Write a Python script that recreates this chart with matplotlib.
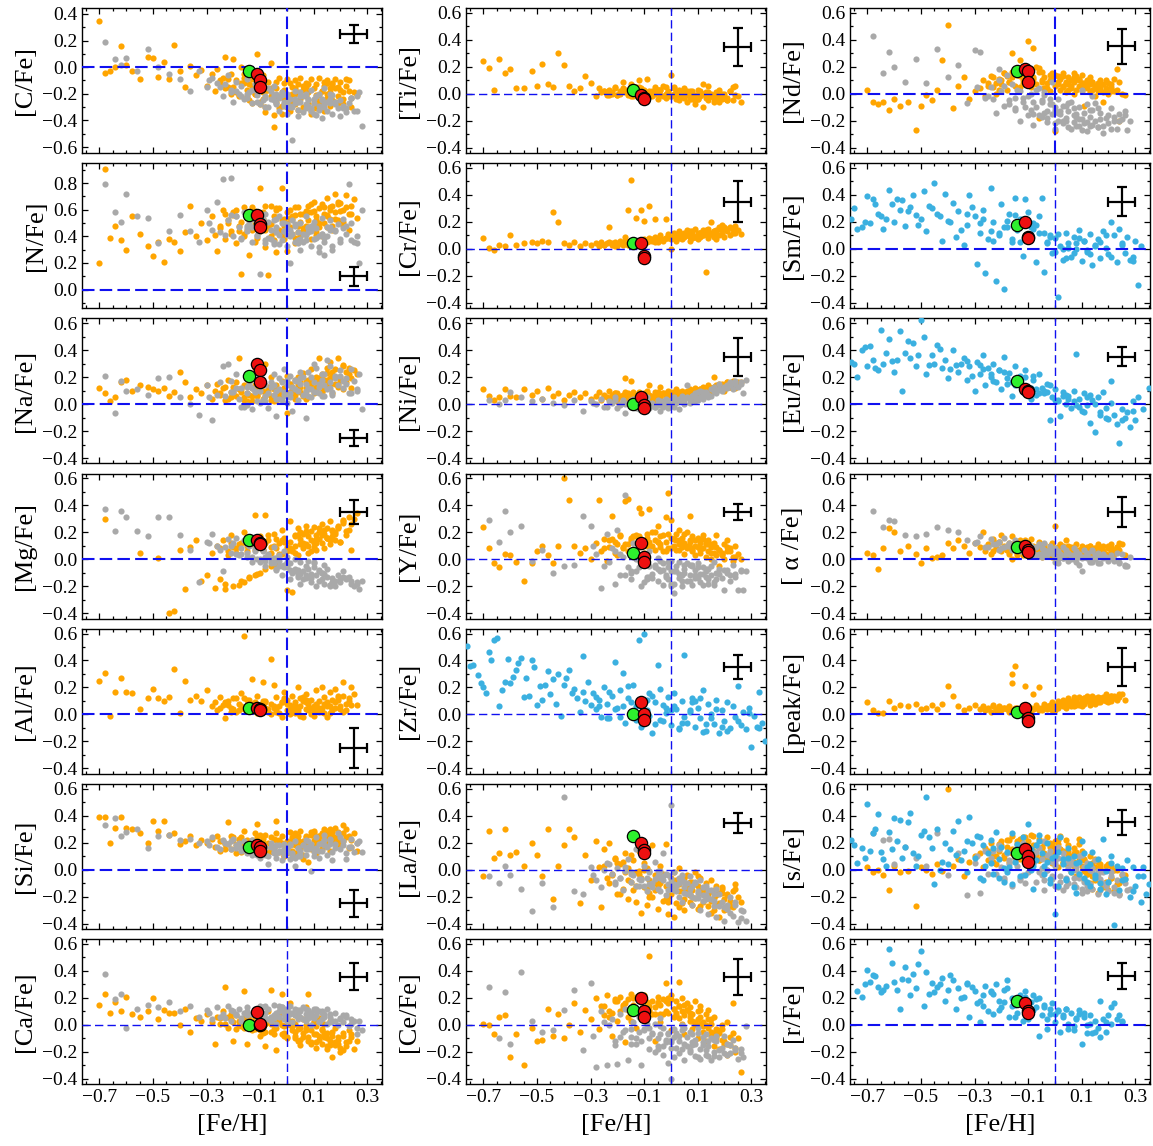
import matplotlib
matplotlib.use("Agg")
import matplotlib.pyplot as plt
from matplotlib.ticker import MultipleLocator
import numpy as np

plt.rcParams['font.family'] = ['Liberation Serif', 'DejaVu Serif']

# [Fe/H] of the comparison samples (units of 0.01 dex)
orange_feh = [-70, -68, -66, -64, -62, -60, -58, -55, -52, -50,
              -48, -46, -44, -42, -40, -38, -36, -34, -32, -30,
              -28, -27, -26, -25, -24, -23, -22, -21, -20, -19,
              -18, -17, -16, -16, -15, -14, -13, -12, -12, -11,
              -10, -10, -9, -8, -8, -7, -6, -6, -5, -4,
              -4, -3, -2, -2, -1, 0, 0, 1, 1, 2,
              2, 3, 3, 4, 4, 5, 5, 6, 6, 7,
              7, 8, 8, 9, 9, 10, 10, 11, 11, 12,
              12, 13, 13, 14, 14, 15, 15, 16, 16, 17,
              17, 18, 18, 19, 20, 21, 22, 23, 24, 26,
              -25, -23, -21, -19, -17, -15, -13, -11, -9, -7,
              -22, -18, -14, -10, -6, -2, 2, 6, 10, 14,
              -5, -3, -1, 1, 3, 5, 7, 9, 11, 13,
              -20, -16, -12, -8, -4, 0, 4, 8, 12, 16,
              15, 17, 19, 20, 21, 22, 23, 24, 25, 18,
              -13, -9, -5, -1, 3, 7, 11, 15, 19, 21]
gray_feh = [-68, -64, -62, -60, -56, -52, -48, -44, -40, -36,
            -33, -30, -28, -26, -24, -22, -21, -20, -19, -18,
            -17, -16, -15, -14, -13, -12, -11, -10, -9, -8,
            -7, -6, -5, -5, -4, -3, -3, -2, -1, -1,
            0, 0, 1, 1, 2, 3, 3, 4, 5, 5,
            6, 7, 7, 8, 9, 9, 10, 11, 11, 12,
            13, 13, 14, 15, 15, 16, 17, 18, 19, 20,
            21, 22, 23, 24, 25, 26, 27, 28, 14, 10,
            -29, -25, -21, -17, -13, -9, -5, -1, 3, 7,
            -15, -11, -7, -3, 1, 5, 9, 13, 17, 21,
            -12, -8, -4, 0, 4, 8, 12, 16, 20, 24,
            -23, -19, -15, -10, -6, -2, 2, 6, 10, 14,
            18, 22, 26, 12, 8, 4, 0, -4, -8, 16]
blue_feh = [-78, -76, -74, -72, -70, -69, -68, -66, -65, -64,
            -62, -61, -60, -58, -57, -56, -54, -53, -52, -50,
            -49, -48, -46, -45, -44, -42, -41, -40, -38, -37,
            -36, -34, -33, -32, -30, -29, -28, -27, -26, -25,
            -24, -23, -22, -21, -20, -19, -18, -17, -16, -15,
            -14, -13, -12, -11, -10, -9, -8, -7, -6, -5,
            -4, -3, -2, -1, 0, 1, 2, 3, 4, 5,
            6, 7, 8, 9, 10, 11, 12, 13, 14, 15,
            16, 17, 18, 19, 20, 21, 22, 23, 24, 25,
            26, 27, 28, 29, 30, 31, 32, 33, 34, 35,
            -75, -71, -67, -63, -59, -55, -51, -47, -43, -39,
            -35, -31, -27, -23, -19, -15, -11, -7, -3, 1,
            5, 9, 13, 17, 21, 25, 29, 33, -33, -21,
            -18, -13, -9, -6, -2, 3, 7, 11, 15, 19,
            -28, -24, -16, -12, -8, -4, 0, 4, 8, 12]

# [X/Fe] of the comparison samples (units of 0.01 dex)
c_orange = [35, -4, -3, 0, 16, 2, -3, -9, 8, 7,
            -7, 4, -9, 17, -3, -15, 1, -6, -2, -14,
            -5, -18, -1, -12, -8, 8, -15, -20, 6, -10,
            -22, 0, -12, -5, -17, -25, -9, -3, -20, 10,
            -14, -28, -6, -18, -34, -11, 3, -22, -45, -16,
            -26, -8, -19, -35, -12, -30, -9, -22, -33, -15,
            -27, -10, -20, -32, -13, -24, -8, -30, -17, -22,
            -12, -28, -19, -35, -9, -25, -16, -31, -13, -21,
            -8, -27, -18, -14, -33, -23, -10, -29, -19, -12,
            -25, -9, -16, -22, -11, -28, -9, -18, -23, -21,
            -10, -16, -5, -19, -12, -22, -14, -7, -24, -17,
            -9, -21, -13, -26, -16, -29, -20, -14, -27, -11,
            -23, -31, -17, -12, -28, -21, -15, -33, -24, -18,
            -15, -8, -20, -30, -11, -25, -19, -13, -26, -16,
            -20, -13, -27, -17, -24, -14, -10, -30, -19, -26,
            -27, -19, -36, -24, -16, -29, -21, -12, -15, -19]
c_gray = [19, 6, 2, 7, -3, 14, 0, -5, -9, -18,
          -3, -15, -8, -12, -22, -6, -17, -26, -11, -20,
          -14, -24, -9, -19, -27, -13, -21, -28, -16, -23,
          -30, -18, -25, -14, -27, -22, -33, -19, -26, -29,
          -21, -35, -24, -30, -55, -18, -27, -32, -22, -26,
          -34, -20, -28, -25, -31, -17, -27, -36, -22, -29,
          -38, -24, -30, -26, -33, -20, -35, -28, -31, -37,
          -29, -34, -27, -23, -33, -22, -19, -44, -16, -24,
          -10, -15, -19, -22, -17, -25, -21, -28, -24, -31,
          -20, -26, -16, -23, -29, -19, -33, -25, -21, -31,
          -17, -22, -28, -20, -26, -24, -32, -27, -25, -23,
          -13, -18, -23, -15, -24, -21, -30, -22, -35, -28,
          -26, -31, -33, -20, -29, -37, -26, -20, -30, -24]
ti_orange = [24, 19, 3, 26, 15, 18, 4, 4, 17, 6,
             22, 7, 5, 30, 21, 6, 2, 4, 13, 8,
             -2, 4, 1, 2, -1, 3, 0, 5, -1, 2,
             9, 1, -1, 3, 7, 0, 2, 10, -2, 4,
             1, -3, 11, 0, 2, -2, 5, 1, -4, 3,
             -1, 6, 0, -3, 2, 14, -2, 5, 0, -4,
             1, 3, -5, 0, 2, -3, 4, -1, -6, 1,
             0, -3, 2, -8, -1, 3, -4, 0, -2, -10,
             7, -3, 1, -5, 6, -2, 0, -6, -3, -1,
             -4, -2, -6, 0, -3, -5, 2, 5, 6, -6,
             2, -1, 4, 0, 3, -2, 5, 1, -3, 2,
             1, 4, -2, 3, 0, 5, -1, 2, -4, 1,
             3, -2, 1, 4, -3, 0, 2, -5, 1, -2,
             -1, 2, 5, 0, 3, -2, 1, -4, 0, -3,
             -2, 1, -4, 0, -3, 2, -5, -1, -2, 3,
             4, 0, 3, -2, 1, -4, 2, -1, -3, -5]
nd_orange = [3, -6, -8, -6, -12, -4, -9, -6, -27, -9,
             -1, -5, 3, 25, 51, -11, 6, 12, -4, 2,
             4, 10, -2, 8, 13, 5, 0, 11, 7, 15,
             3, 9, 12, 30, 6, 14, 25, 10, 17, 8,
             39, 13, 5, 11, 34, 7, 16, -18, 10, 4,
             12, 8, 14, 2, 10, -28, 6, 13, 9, 3,
             11, 5, 15, 8, 1, 12, 7, 4, 10, 0,
             9, 13, 3, 6, 11, 2, 8, 5, -9, 10,
             4, 7, 1, 9, 3, 6, -2, 8, 2, 5,
             3, -6, 1, 4, 0, 7, 2, 18, -20, -1,
             6, 12, 3, 15, 9, 18, 5, 14, 11, 20,
             8, 13, 17, 7, 19, 10, 12, 6, 14, 9,
             16, 4, 11, 7, 13, 3, 15, 10, 5, 12,
             10, 16, 8, 12, 4, 14, 9, 11, 7, 3,
             6, 10, 2, 8, 5, 11, 3, 9, 0, 7,
             13, 18, 9, 15, 6, 12, 8, 4, 10, 2]
nd_gray = [43, 15, 31, 20, 9, 26, 8, 33, 12, 21,
           -7, 32, 31, -3, 5, -14, 18, 2, -9, 14,
           -5, 7, -12, 3, -20, -3, 8, -16, 0, -23,
           -10, 4, -17, -6, 1, -13, -21, -4, 9, -8,
           -26, -12, -20, -4, -15, -22, -9, -18, -25, -13,
           -6, -21, -16, -24, -10, -19, -27, -14, -22, -8,
           -17, -24, -12, -20, -7, -25, -14, -29, -18, -22,
           -11, -20, -26, -15, -19, -16, -27, -20, -2, 3,
           5, -2, 10, -8, 2, -12, -5, -15, -20, -11,
           -3, -10, 3, -18, -14, -7, -24, -12, -19, -26,
           -6, -15, -1, -22, -9, -17, -21, -11, -16, -20,
           -4, 6, -11, -2, -16, -8, -13, -26, -19, -23,
           -24, -17, -13, -28, -15, -20, -10, -14, -6, -25]
n_orange = [20, 91, 39, 48, 37, 30, 55, 42, 33, 25,
            36, 21, 38, 36, 29, 43, 63, 40, 50, 37,
            55, 41, 29, 46, 60, 38, 50, 44, 58, 35,
            48, 12, 62, 42, 54, 26, 47, 59, 36, 51,
            76, 44, 57, 32, 63, 11, 49, 40, 55, 28,
            61, 45, 76, 52, 38, 58, 29, 47, 60, 42,
            53, 35, 56, 48, 62, 40, 51, 57, 44, 59,
            46, 63, 52, 38, 58, 49, 66, 43, 55, 61,
            50, 64, 41, 57, 62, 47, 69, 53, 60, 45,
            63, 58, 72, 52, 65, 48, 71, 57, 63, 54,
            48, 57, 42, 60, 51, 45, 62, 39, 53, 47,
            52, 44, 58, 49, 63, 41, 55, 46, 59, 50,
            43, 61, 48, 54, 39, 57, 47, 64, 52, 40,
            56, 40, 51, 45, 60, 50, 43, 58, 47, 62,
            55, 48, 66, 59, 51, 62, 45, 57, 68, 53,
            45, 58, 37, 53, 62, 48, 41, 56, 64, 60]
n_gray = [79, 58, 51, 72, 55, 54, 35, 44, 56, 44,
          36, 60, 45, 66, 83, 52, 84, 40, 55, 47,
          38, 58, 44, 50, 36, 53, 41, 12, 48, 57,
          39, 45, 52, 34, 47, 41, 55, 37, 44, 50,
          33, 46, 20, 40, 52, 36, 48, 43, 30, 50,
          42, 55, 37, 47, 33, 44, 51, 39, 46, 28,
          42, 54, 36, 47, 40, 52, 30, 45, 49, 36,
          53, 42, 79, 37, 36, 35, 20, 60, 26, 38,
          50, 43, 56, 39, 47, 53, 36, 44, 49, 41,
          46, 40, 51, 34, 45, 38, 48, 42, 33, 46,
          52, 37, 43, 49, 35, 46, 40, 45, 38, 50,
          41, 55, 48, 44, 38, 50, 42, 36, 47, 39,
          44, 48, 40, 32, 43, 37, 41, 53, 35, 47]
na_orange = [12, 8, 2, 5, 16, 18, 10, 14, 13, 11,
             10, 12, 6, 9, 24, 16, 5, 11, 8, 14,
             4, 10, 15, 7, 12, 3, 18, 9, 13, 6,
             34, 11, 5, 14, 8, 16, 2, 12, 27, 7,
             10, 15, 4, 30, 9, 13, 6, 20, 11, 3,
             14, 8, 17, 5, 12, 21, -7, 9, 15, 6,
             11, 18, 4, 14, 20, 9, 16, 7, 23, 12,
             10, 18, 5, 15, 26, 11, 8, 20, 13, 34,
             16, 22, 9, 18, 12, 27, 14, 31, 19, 8,
             21, 15, 26, 34, 18, 11, 24, 27, 19, 22,
             8, 13, 5, 16, 9, 2, 12, 6, 15, 10,
             4, 11, 7, 14, 3, 9, 13, 6, 17, 11,
             12, 5, 9, 15, 7, 13, 4, 18, 10, 21,
             9, 3, 14, 6, 11, 8, 16, 12, 19, 14,
             18, 24, 13, 20, 29, 16, 22, 12, 25, 20,
             6, 10, 2, 12, 8, 17, 11, 23, 15, 28]
na_gray = [21, -7, 17, 10, 11, 7, 19, 20, 5, 0,
           -8, 14, -12, 7, 28, 30, 17, 9, 22, 4,
           12, -2, 8, 15, -4, 10, 18, 1, 25, 6,
           -3, 13, 7, 22, -9, 11, 4, 16, 9, 26,
           1, 14, 21, 8, -5, 17, 11, 3, 19, 24,
           7, 15, -10, 12, 20, 5, 16, 9, 27, 13,
           18, 6, 22, 11, 33, 16, 9, 21, 14, 25,
           12, 19, 8, 26, 17, 10, 22, -4, 6, 30,
           5, 16, 9, -2, 12, 3, 14, 7, 18, 10,
           13, 2, 8, 19, 5, 15, 11, 22, 7, 17,
           9, 14, 4, 18, 10, 6, 15, 12, 21, 8,
           6, 12, -1, 10, 16, 3, 13, 20, 9, 14,
           19, 15, 11, 8, 24, 17, 6, 10, 2, 28]
mg_orange = [None, 30, None, None, None, None, None, 5, None, None,
             1, None, -40, -38, 7, -22, 9, 14, -16, -12,
             5, -21, 10, -15, 14, -22, 3, 18, -20, 8,
             -19, 12, -17, 20, 6, -14, 15, 33, -12, 9,
             17, -10, 11, 33, -7, 14, 5, -5, 19, 8,
             -3, 12, 22, 4, 16, -23, 9, 28, 13, -24,
             6, 18, 10, 23, 3, 15, 20, 8, 12, 25,
             11, 17, 5, 21, 14, 9, 24, 18, 7, 15,
             20, 12, 26, 8, 19, 16, 23, 11, 28, 17,
             22, 14, 19, 25, 13, 29, 21, 31, 7, 34,
             8, -18, 12, 5, -16, 10, 15, -11, 7, 18,
             6, 11, -13, 16, 9, 14, 7, 19, 12, 22,
             10, 4, 13, 8, 17, 11, 21, 6, 15, 18,
             9, 13, 7, 12, 15, 6, 18, 10, 23, 14,
             16, 21, 24, 13, 27, 18, 22, 26, 30, 20,
             11, 7, -4, 14, 5, 20, 12, 16, 23, 28]
mg_gray = [37, 21, 36, 31, 21, 17, 31, 31, 18, 7,
           -17, 13, 19, 10, -9, 15, 5, 12, 16, 3,
           8, 14, 2, 10, -2, 6, 12, 0, 7, -5,
           4, -3, 9, 1, -8, 3, -1, -12, 6, -4,
           -6, 2, -15, -3, -10, 0, -7, -13, -2, -18,
           -9, -5, -14, -1, -11, -17, -6, -12, -20, -8,
           -15, -10, -18, -13, -7, -19, -14, -16, -12, -17,
           -9, -15, -13, -16, -20, -18, -22, -16, -4, -2,
           12, 7, 10, 4, 2, 6, -3, -6, -9, -12,
           5, 0, 3, -5, -8, -11, -14, -10, -17, -13,
           8, -1, 1, -4, -12, -7, -16, -19, -15, -18,
           9, 4, 11, -2, 0, -5, -9, -15, -3, -11,
           -20, -14, -17, -9, -13, -8, -2, -7, 2, -20]
al_orange = [25, 31, -1, 17, 27, 17, 16, 4, 12, 19,
             12, 10, 13, 34, 1, 25, 11, 14, 10, 18,
             6, 9, 3, 13, 7, -3, 10, 5, 12, 2,
             8, 16, 4, 58, 11, 6, 26, 9, 3, 14,
             7, 1, 24, 5, 10, 2, 41, 8, 22, 4,
             13, 6, -2, 9, 17, 3, 11, 0, 7, 14,
             2, 9, 5, 20, 1, 12, 6, -2, 10, 4,
             15, 3, 8, 0, 11, 6, -1, 18, 7, 2,
             10, 5, 20, 1, 13, 8, -2, 17, 6, 11,
             3, 19, 9, 14, 4, 24, 8, 12, 20, 7,
             5, 9, 2, 12, 6, 3, 8, 1, 10, 4,
             7, 3, 11, 5, 0, 9, 4, 13, 2, 8,
             6, 1, 10, 3, 7, -1, 11, 5, 8, 2,
             4, 12, 6, 9, 2, 8, 3, 10, 5, 1,
             9, 4, 12, 6, 14, 3, 10, 7, 15, 5,
             3, 8, 5, 12, 1, 9, 4, 6, 11, 2]
si_orange = [39, 39, 20, 31, 39, 31, 30, 27, 20, 36,
             29, 36, 26, 27, 19, 21, 25, 18, 22, 20,
             23, 17, 25, 14, 21, 19, 35, 15, 22, 12,
             20, 24, 16, 29, 13, 19, 22, 27, 15, 34,
             18, 11, 23, 16, 26, 20, 14, 24, 17, 36,
             22, 13, 19, 25, 10, 21, 16, 28, 18, 14,
             23, 27, 12, 19, 25, 15, 29, 21, 8, 17,
             24, 20, 6, 26, 15, 22, 29, 18, 13, 25,
             21, 27, 16, 23, 30, 19, 26, 14, 29, 22,
             25, 31, 20, 28, 18, 33, 24, 16, 22, 14,
             21, 15, 25, 18, 13, 22, 17, 24, 19, 12,
             19, 23, 16, 26, 14, 20, 24, 11, 27, 18,
             17, 22, 13, 19, 26, 16, 21, 28, 23, 15,
             24, 18, 21, 15, 27, 12, 22, 19, 25, 30,
             23, 28, 19, 26, 21, 30, 25, 17, 27, 24,
             14, 20, 23, 10, 18, 25, 12, 29, 22, 27]
si_gray = [33, 38, 25, 28, 30, 16, 25, 26, 22, 23,
           20, 21, 24, 17, 22, 19, 15, 23, 18, 20,
           16, 21, 13, 18, 22, 15, 11, 19, 14, 17,
           4, 20, 12, 16, 9, 18, 13, 7, 15, 11,
           17, 14, 8, 19, 12, 21, 3, 16, 10, 14,
           18, 11, 22, 15, -1, 19, 13, 24, 16, 9,
           20, 14, 26, 17, 11, 22, 7, 19, 27, 15,
           21, 8, 17, 23, 13, 20, 21, 13, 18, 10,
           18, 15, 21, 14, 11, 17, 13, 19, 9, 15,
           12, 17, 10, 14, 18, 12, 16, 20, 13, 18,
           15, 11, 18, 13, 16, 21, 14, 19, 24, 17,
           20, 16, 13, 9, 17, 14, 11, 18, 15, 22,
           16, 12, 20, 19, 17, 10, 15, 12, 16, 23]
ca_orange = [15, 23, 9, 17, 10, 21, 8, 6, 10, 20,
             4, 11, 9, 9, 0, 12, -5, 5, 3, 8,
             2, -14, 6, 1, 10, 28, -2, 4, -12, 7,
             3, -1, 25, 5, -14, 2, 8, -3, 11, 0,
             6, -8, 3, -16, 1, 10, -5, 26, 4, -19,
             -2, 7, 23, 0, -6, 5, -10, 2, 16, -4,
             3, -8, 1, -12, 6, -2, -15, 4, -6, 13,
             0, -9, 23, -4, -13, 2, -7, -17, -1, -11,
             5, -14, -3, -9, 1, -18, -6, -12, 3, -24,
             -8, -15, -2, -11, -17, -6, -13, -4, -9, -12,
             5, 1, 8, -3, 3, 7, -2, 4, -6, 2,
             6, 0, 4, -4, 1, -7, -1, -9, 2, -6,
             -3, 3, -8, 0, -5, -11, -2, -14, -7, -4,
             2, -2, 5, -5, 0, -9, -3, -12, -8, -15,
             -10, -5, -14, -20, -8, -16, -12, -7, -18, -13,
             -4, 0, -7, -1, -10, -4, -13, -16, -9, -19]
ca_gray = [38, 19, 23, -2, 12, 15, 13, 17, 10, 14,
           6, 11, 4, 13, 8, 14, 3, 10, 7, 12,
           5, 9, 13, 2, 8, 11, 6, 14, 4, 9,
           12, 3, 7, 15, 1, 10, 6, 13, 8, 4,
           11, 5, 9, 14, 2, 7, 12, 4, 10, 6,
           13, 3, 8, 11, 0, 9, 5, 12, 7, 2,
           10, 4, 8, 1, 12, 6, 3, 9, 0, 5,
           2, 7, -1, 4, 3, -7, 3, -4, 6, 11,
           9, 6, 11, 3, 8, 13, 5, 10, 7, 12,
           7, 10, 4, 14, 8, 11, 6, 9, 3, 7,
           12, 5, 9, 3, 11, 6, 2, 8, 4, 1,
           5, 8, 10, 2, 6, 13, 9, 4, 12, 7,
           3, 6, -2, 10, 5, 9, 12, 7, 14, 2]
cr_orange = [8, 1, -1, 3, 2, 10, 3, 4, 5, 4,
             6, 5, 27, 20, 4, 3, 5, 2, 4, 3,
             4, 2, 5, 3, 4, 16, 3, 5, 2, 6,
             4, 9, 29, 3, 51, 5, 23, 6, 4, 29,
             21, 7, 5, 8, 32, 6, 22, 9, 5, 8,
             10, 6, 22, 8, 11, 0, 7, 12, 9, 6,
             10, 13, 8, 11, 7, 12, 9, 14, 10, 6,
             11, 8, 13, 9, 15, 10, 7, 12, 9, 14,
             10, -17, 12, 8, 15, 11, 20, 9, 13, 7,
             12, 15, 10, 18, 9, 14, 16, 12, 17, 11,
             3, 5, 2, 4, 6, 3, 5, 4, 6, 7,
             4, 3, 5, 6, 5, 8, 9, 10, 12, 11,
             6, 7, 9, 8, 11, 10, 13, 9, 12, 14,
             3, 5, 4, 6, 7, 9, 8, 11, 10, 13,
             12, 14, 11, 16, 13, 10, 15, 12, 14, 16,
             4, 6, 7, 8, 10, 9, 12, 11, 14, 15]
ni_orange = [11, 6, 3, 5, 11, 6, 5, 11, 7, 10,
             4, 12, 6, 8, 3, 7, 9, 5, 8, 4,
             6, 9, 3, 7, 5, 10, 4, 8, 2, 6,
             7, 19, 4, 8, 17, 3, 6, 9, 2, 5,
             8, 4, 10, 3, 14, 6, 9, 2, 7, 13,
             5, 8, 3, 6, 10, 2, 7, 9, 4, 11,
             6, 3, 8, 5, 10, 7, 4, 9, 6, 11,
             8, 5, 10, 7, 12, 6, 9, 11, 8, 13,
             10, 7, 12, 9, 14, 8, 11, 13, 20, 10,
             12, 15, 11, 14, 10, 16, 13, 15, 12, 16,
             6, 4, 8, 5, 9, 7, 3, 6, 8, 5,
             7, 5, 9, 4, 6, 8, 7, 10, 9, 11,
             6, 8, 5, 7, 9, 6, 10, 8, 11, 12,
             8, 6, 4, 7, 5, 9, 8, 10, 12, 13,
             12, 14, 15, 11, 16, 13, 17, 14, 16, 12,
             5, 7, 9, 6, 8, 10, 9, 12, 14, 13]
ni_gray = [3, 0, 3, 9, 5, 2, 4, 1, -1, 3,
           -5, 2, 0, 4, -2, 1, 5, -3, 0, 3,
           -7, 1, -2, 4, 0, -4, 2, -1, 5, -3,
           1, -2, 3, 0, -5, 2, -1, 4, -3, 1,
           0, 3, -2, 5, 1, -4, 2, 6, 0, 3,
           14, 4, 1, 6, 2, 8, 3, 5, 10, 4,
           7, 9, 5, 11, 6, 13, 8, 15, 10, 12,
           14, 16, 11, 17, 13, 15, 8, 18, 7, 9,
           1, -2, 3, 0, -3, 2, -1, 1, 4, 3,
           -1, 2, 0, -2, 3, 1, 5, 8, 9, 12,
           0, -3, 2, 1, 4, 6, 7, 10, 13, 15,
           2, -1, 3, 0, -2, 1, 2, 5, 4, 7,
           11, 14, 16, 9, 6, 3, 1, -1, 0, 12]
y_orange = [24, 8, -3, -6, 4, 3, -2, -16, -3, 6,
            10, 3, -3, 10, 60, 44, 10, 5, 8, 0,
            12, 44, 6, 15, -1, 9, 32, 13, 3, 17,
            8, 43, 11, 45, 14, 6, 18, 38, 9, 34,
            12, 5, 16, 37, 10, 20, 7, 14, 25, 11,
            17, 6, 31, 13, 49, 8, 29, 15, 10, 19,
            7, 14, 22, 9, 16, 4, 12, 20, 8, 32,
            13, 6, 17, 10, 3, 15, 9, 12, 5, 18,
            8, 11, 2, 14, 6, 9, 0, 12, 5, 18,
            3, 7, -5, 4, 0, 14, 6, -1, 2, 0,
            8, 14, 5, 18, 11, 16, 7, 13, 19, 10,
            15, 9, 17, 12, 20, 6, 14, 10, 16, 11,
            13, 18, 8, 15, 11, 19, 9, 14, 7, 12,
            11, 6, 17, 13, 9, 16, 12, 7, 15, 10,
            5, 9, 3, 11, 6, 8, 2, 10, 4, 7,
            17, 10, 13, 19, 7, 14, 8, 11, 5, 9]
y_gray = [29, 13, 36, 20, 25, -1, 7, -10, -5, -4,
          32, 25, 4, -21, 19, 8, -18, 22, -12, 2,
          48, -6, -15, 12, -9, 3, -20, -2, -13, 6,
          -11, -4, -16, 1, -8, -19, -3, -12, -6, -15,
          -1, -18, -9, -25, -5, -14, -2, -20, -10, -7,
          -16, -4, -12, -19, -8, -14, -3, -11, -17, -6,
          -13, -9, -15, -5, -12, -2, -10, -7, -14, -23,
          -8, -12, -4, -11, -23, -9, -23, -9, -18, -6,
          10, -5, 6, -12, 0, -15, -7, -2, -11, -16,
          -9, -3, -14, -8, -18, -4, -12, -7, -15, -10,
          -6, -13, -1, -9, -16, -5, -11, -19, -8, -13,
          -2, 4, -10, -17, -6, -13, -9, -3, -14, -7,
          -11, -16, -8, -19, -4, -12, -20, -9, -5, -17]
zr_blue = [50, 51, 37, 29, 20, 16, 46, 55, 57, 6,
           24, 41, 23, 33, 38, 42, 27, 14, 40, 7,
           21, 11, 32, 15, 26, 30, -1, 22, 33, 16,
           19, 2, 43, 10, 7, 16, 4, 11, -2, 20,
           8, -3, 14, 39, 5, 18, 31, -6, 12, 0,
           22, 6, 55, -9, 60, 3, 16, -14, 9, 37,
           -4, 7, 1, 13, -8, 16, 4, -11, 10, 44,
           -6, 2, 12, -9, 5, -3, 18, -12, 8, 0,
           -7, 11, -14, 3, -5, 9, -10, 6, -2, 21,
           -8, 2, -11, 5, -24, -1, -9, 17, -6, -20,
           36, 23, 40, 18, 28, 13, 35, 22, 8, 27,
           12, 24, 6, 17, -2, 9, 2, 14, -5, 6,
           -2, 10, -7, 4, -12, -5, 1, -10, 17, 4,
           6, -4, 11, -7, 5, -10, 3, 12, -3, -9,
           13, -3, 21, 7, -1, 19, 3, -6, 9, -13]
la_orange = [-5, 29, 9, 12, 30, 11, 13, 3, 20, 11,
             -5, 30, -22, 3, 18, 30, 24, -25, 11, -8,
             21, 2, -28, 15, -6, 20, -3, 9, -18, 4,
             -14, 12, 1, -22, -9, 7, -24, -3, 14, -32,
             -13, 5, -26, -8, -20, 18, -4, -15, -29, -10,
             3, -23, -12, 19, -33, -6, -18, -35, -2, -25,
             -11, -28, 1, -16, -7, -22, -30, -13, -4, -19,
             -9, -26, -15, -2, -21, -12, -29, -17, -6, -24,
             -14, -20, -10, -27, -18, -8, -23, -15, -30, -12,
             -19, -25, -35, -14, -22, -18, -27, -16, -14, -24,
             3, -10, 8, -18, -2, 11, -12, -6, 1, -20,
             -4, 6, -15, 0, -10, -22, -8, -16, -5, -20,
             -12, -3, -24, -9, -16, -6, -19, -11, -27, -14,
             5, -8, -1, -17, -6, -13, -25, -9, -18, -21,
             -16, -26, -13, -30, -19, -23, -28, -11, -20, -17,
             -2, -14, -8, -20, -11, -24, -15, -32, -17, -29]
la_gray = [-5, -10, 3, -4, -14, -31, -10, -28, 54, -16,
           -18, 2, -8, -13, 5, -3, -11, 1, -6, -15,
           -1, 8, -9, -4, 15, -12, -7, 3, -16, -2,
           -10, 6, -5, -14, -1, -8, 12, -19, -4, -11,
           48, -7, -15, -2, -12, -20, -6, -24, -13, -9,
           -18, -5, -14, -26, -10, -21, -16, -30, -8, -23,
           -19, -12, -33, -22, -15, -27, -35, -18, -24, -38,
           -29, -20, -34, -26, -39, -30, -31, -38, -21, -17,
           -4, 0, -9, 2, -12, -6, -1, -15, -10, -18,
           -3, -8, -13, -5, -11, -17, -9, -22, -14, -26,
           -7, -1, -16, -10, -4, -20, -13, -18, -28, -24,
           4, -6, -2, -12, -7, -3, -16, -10, -21, -15,
           -27, -32, -36, -19, -12, -8, -14, -6, -11, -23]
ce_orange = [1, 0, -7, 6, 7, -24, -7, -30, -2, -12,
             -11, 12, -8, 8, -10, 0, 16, -5, 11, 4,
             20, -3, 14, 7, 22, 10, -8, 18, 3, 21,
             13, -13, 19, 6, 23, 15, -2, 20, 9, 17,
             22, 4, 14, 51, 11, 18, -12, 8, 21, 15,
             2, 19, 31, 10, 16, -4, 22, 12, 6, 18,
             9, 32, 14, 1, 20, 7, -7, 16, 11, 3,
             13, -3, 8, 18, 0, 10, -10, 6, 14, 2,
             -5, 8, -12, 4, 11, -8, 1, -16, 6, -3,
             -10, -6, -18, 0, -14, -22, -9, 16, -17, -35,
             14, 6, 19, 10, 16, 3, 21, 12, 17, 8,
             9, 15, 20, 5, 13, 18, 7, 11, 4, -2,
             16, 8, 20, 12, 5, 15, 9, 2, 11, 0,
             18, 11, 22, 14, 8, 19, 10, 3, -1, -6,
             4, -8, -3, -12, 2, -15, -6, -20, -10, -4,
             20, 13, 17, 9, 14, 6, 1, -5, -11, -14]
ce_gray = [28, -10, 24, -14, 39, 3, -5, -4, 11, 26,
           -19, 31, -31, 10, -30, 4, -12, -29, 8, -5,
           12, -26, -9, 2, -14, 6, -30, -3, 9, -18,
           -7, 1, -16, -10, 5, -22, -2, -13, -28, -6,
           -40, -11, -24, -3, -17, -8, -21, 0, -14, -26,
           -9, -19, -5, -15, -23, -11, -2, -18, -25, -13,
           -7, -22, -16, -10, -26, -20, -12, -24, -17, -8,
           -14, -21, -11, -19, -25, -18, -24, -1, -23, -6,
           -8, 2, -15, -4, -10, 1, -18, -7, -12, -20,
           -3, -12, -6, -16, -9, -2, -14, -19, -8, -22,
           -5, -10, -1, -13, -18, -7, -15, -11, -21, -17,
           0, -9, -14, -4, -20, -11, -6, -16, -24, -12,
           -19, -15, -21, -9, -13, -4, -17, -7, -2, -23]
sm_blue = [60, 22, 15, 16, 39, 19, 37, 26, 24, 15,
           44, 33, 20, 29, 36, 17, 31, 40, 25, 22,
           43, 13, 30, 49, 26, 6, 41, 21, 34, 9,
           28, 3, 18, 40, 24, -11, 12, 29, -18, 7,
           45, 20, -24, 10, 33, -30, 16, 26, 5, 38,
           14, 22, -5, 37, 27, 8, 19, -10, 12, 38,
           -17, 5, 10, -3, 8, -36, 2, -8, 12, 4,
           -6, 9, 0, 14, -9, 6, -2, 11, -12, 3,
           7, -7, 13, 1, -4, 20, 10, -10, 15, 4,
           -3, 9, -8, -6, 6, -27, 2, None, None, None,
           30, 20, 33, 22, 37, 28, 18, 32, 24, 20,
           14, 31, 22, 6, 16, 25, 8, 18, 4, 11,
           1, 8, -4, 5, -6, 3, -9, None, 26, 12,
           21, 5, 16, 24, 9, 0, -3, 6, 2, 10,
           19, 13, 7, 20, 15, 12, -2, -7, 4, -1]
eu_blue = [35, 31, 20, 40, 28, 43, 33, 25, 55, 30,
           48, 32, 24, 54, 10, 38, 34, 45, 28, 62,
           50, 22, 36, 30, 44, 27, 33, 19, 40, 29,
           24, 34, 18, 28, 10, 31, 22, 36, 14, 27,
           20, 30, 16, 25, 11, 35, 19, 23, 6, 28,
           17, 21, 9, 25, 13, 4, 18, 7, 22, 12,
           8, 15, -12, 5, 11, 2, -9, 9, 0, 6,
           -3, 10, 37, 4, -5, 8, -1, -14, 3, -21,
           5, -6, 9, -3, -11, 17, -8, -15, -29, -4,
           -10, -6, -17, 2, -12, 5, None, -4, None, 12,
           30, 42, 27, 38, 33, 47, 36, 29, 41, 26,
           30, 21, 26, 17, 24, 14, 20, 11, 9, 3,
           4, -2, 7, -8, 1, -12, -5, None, 32, 25,
           15, 19, 12, 8, 14, 6, 2, -6, 0, -10,
           29, 22, 16, 13, 21, 10, 3, 7, -1, 5]
alpha_orange = [5, 3, -7, 8, 23, 20, 6, 10, 4, -3,
                8, 1, 2, 3, 12, 8, 14, 10, 5, 12,
                9, 20, 6, 11, 4, 15, 8, 13, 18, 10,
                7, 12, 0, 17, 9, 5, 14, 3, 11, 8,
                6, 12, 15, 4, 10, 7, 13, 9, 2, 11,
                8, 5, 10, 3, 12, 25, 7, 9, 2, 11,
                6, 9, 4, 14, 7, 2, 10, 5, 8, 3,
                9, 6, 11, 4, 7, 10, 2, 8, 5, 9,
                7, 3, 10, 6, 1, 8, 5, 11, 4, 7,
                9, 6, 10, 3, 8, 11, 7, 9, 12, 3,
                10, 6, 13, 8, 4, 11, 7, 14, 5, 9,
                12, 7, 3, 10, 6, 8, 4, 9, 5, 7,
                8, 4, 11, 6, 2, 9, 5, 7, 3, 10,
                6, 11, 9, 3, 7, 5, 8, 2, 6, 4,
                5, 8, 3, 10, 6, 4, 9, 7, 11, 6,
                9, 5, 7, 2, 10, 6, 3, 8, 4, 9]
alpha_gray = [36, 24, 29, 28, 18, 17, 19, 24, 22, 20,
              14, 12, 17, 9, 15, 11, 13, 8, 16, 10,
              12, 7, 14, 9, 11, 6, 13, 8, 10, 5,
              9, 11, 4, 8, 12, 6, 3, 10, 7, 5,
              2, 8, -3, 6, 4, 9, 1, 7, -1, 5,
              3, 8, 0, 6, -4, 4, -9, 7, 2, 5,
              1, -2, 6, 3, 0, 5, -3, 4, 2, -1,
              3, 0, 5, -2, 4, -5, -5, 2, 7, 1,
              13, 9, 7, 10, 6, 4, 2, 5, 1, 3,
              8, 6, 3, 5, 0, 4, 2, -1, 3, 1,
              10, 5, 7, 2, 4, -2, 1, 3, 0, -3,
              11, 9, 12, 6, 4, 7, 3, 0, 2, -2,
              1, -1, -4, 4, 2, 5, -2, 6, 3, -3]
peak_orange = [9, 3, 1, 1, 10, 5, 7, 6, 8, 4,
               5, 7, 4, 8, 21, 14, 6, 3, 5, 7,
               4, 6, 3, 5, 2, 7, 4, 6, 3, 5,
               4, 6, 23, 30, 36, 5, 3, 7, 4, 21,
               6, 3, 5, 15, 4, 7, 20, 5, 3, 6,
               8, 4, 7, 5, 9, 3, 6, 10, 5, 8,
               7, 11, 6, 9, 5, 12, 8, 10, 6, 13,
               9, 7, 11, 8, 13, 6, 10, 12, 8, 14,
               10, 7, 12, 9, 14, 8, 11, 13, 9, 12,
               10, 13, 11, 15, 9, 14, 12, 13, 15, 11,
               4, 6, 3, 5, 2, 5, 3, 6, 4, 5,
               3, 5, 4, 6, 3, 5, 8, 7, 10, 9,
               4, 6, 3, 7, 9, 8, 10, 7, 12, 9,
               5, 3, 6, 4, 5, 7, 9, 8, 11, 10,
               11, 9, 13, 12, 10, 14, 11, 13, 15, 12,
               4, 3, 5, 4, 8, 6, 11, 12, 10, 14]
s_orange = [2, -2, 0, -4, -15, 3, -2, -1, -27, 2,
            0, -3, 4, -1, 60, 3, 8, -5, 6, 10,
            12, 2, 16, 7, 20, 10, 4, 14, 18, 9,
            22, 6, 15, 25, 11, 19, 8, 24, 13, 17,
            21, 9, 26, 14, 18, 11, 23, 7, 16, 20,
            12, 24, 9, 17, 5, 21, 13, 19, 2, 15,
            25, 8, 14, 22, 4, 11, 18, -2, 10, 16,
            6, 12, -5, 9, 23, 3, 14, -8, 7, 1,
            -3, 10, -10, 5, -14, 2, 8, -6, -17, 4,
            -9, -1, -12, 3, -15, -6, 0, -11, -18, -4,
            14, 6, 19, 11, 22, 9, 16, 24, 5, 18,
            10, 17, 21, 13, 7, 20, 15, 4, 11, -5,
            17, 9, 12, 22, 6, 14, 3, 19, 8, -2,
            21, 12, 18, 25, 10, 16, 8, 13, -3, 6,
            -8, 2, -12, 4, -6, -16, 0, -10, -4, -13,
            23, 15, 10, 18, 5, 12, -1, 7, -9, 3]
s_gray = [27, 22, 23, 4, 17, 9, 3, 27, -4, 12,
          -19, 5, -17, 14, 9, -3, 18, 2, -8, 12,
          7, -12, 15, 3, -6, 20, 10, -2, 13, 5,
          -9, 16, 8, -4, 21, 11, 0, 14, -7, 6,
          3, -12, 17, 9, -5, 12, -15, 6, 1, -10,
          8, -6, 4, -13, 10, -3, -17, 2, -9, 5,
          -11, 0, -14, -4, 7, -18, -7, -2, -12, -16,
          -5, -13, -8, -19, -3, -10, -15, -14, -1, 11,
          10, -3, 15, 4, -8, 12, 1, -5, 9, -11,
          6, -10, 13, 0, -13, 8, -6, 3, -15, -2,
          -4, 11, -8, 5, -12, 2, -16, -3, -9, -18,
          14, -6, 8, 17, -2, 10, -9, 4, -14, 1,
          -10, -17, -7, -12, 0, -6, 7, -15, 5, -1]
s_blue = [32, 22, 5, 16, 49, 14, 27, 41, 13, 8,
          28, 15, 38, 37, 9, 17, 42, 12, 3, 26,
          29, 54, 16, -11, 30, 6, 20, 4, 29, 11,
          36, 14, -2, 39, 9, 25, -6, 18, 3, 12,
          22, -3, 28, 8, 17, -9, 13, 2, 27, 6,
          19, -5, 24, 10, 34, 15, -14, 7, 26, 12,
          3, 20, -10, 9, -33, 13, 24, 4, -8, 16,
          -2, 10, -17, 6, 21, -6, 2, -12, 13, -4,
          8, -14, 23, -1, -9, 5, -41, 3, -15, 1,
          -7, 7, -20, 2, -12, -5, -24, 2, -18, -11,
          18, 9, 30, 3, 21, 35, 10, 24, 0, 15,
          7, 20, -8, 16, 1, 11, -4, 18, 6, -12,
          9, -3, 4, -10, 10, -8, -16, -5, 21, -6,
          -2, 14, 0, 21, -7, 8, -13, 12, -6, -18,
          24, 5, -11, 16, 3, -3, 10, -7, 5, -9]
r_blue = [None, None, 25, 21, 41, 32, 37, 28, 24, 26,
          56, 46, 32, 12, 34, 43, 22, 38, 27, 55,
          14, 39, 31, 24, 28, 35, 18, 26, 33, 12,
          27, 21, 30, 6, 25, 16, 2, 22, 29, 10,
          24, 8, 30, 18, 13, 26, 33, 6, 20, 15,
          9, 22, 14, 25, 4, 17, 11, 19, -8, 7,
          13, -3, 8, 16, 2, 10, -5, 6, 12, 1,
          9, -4, 4, 11, -14, 6, 0, 7, -6, 3,
          -2, 18, 4, -5, 7, 1, 16, 4, 7, 3,
          None, None, None, None, None, None, None, None, None, None,
          None, 30, 36, 29, 26, 33, 45, 23, 30, 37,
          20, 28, 14, 23, 17, 6, 21, 13, 4, 11,
          -3, 8, 1, -9, 13, 2, None, None, 31, 11,
          27, 16, 10, 20, 12, 7, -1, 9, -5, 2,
          18, 25, 14, 3, 22, 15, 8, 12, 5, -6]

# the program stars: one green, three red
green_feh = -0.14
red_feh = [-0.11, -0.10, -0.10]

labels = ['[C/Fe]', '[Ti/Fe]', '[Nd/Fe]', '[N/Fe]', '[Cr/Fe]', '[Sm/Fe]',
          '[Na/Fe]', '[Ni/Fe]', '[Eu/Fe]', '[Mg/Fe]', '[Y/Fe]', '[ α /Fe]',
          '[Al/Fe]', '[Zr/Fe]', '[peak/Fe]', '[Si/Fe]', '[La/Fe]', '[s/Fe]',
          '[Ca/Fe]', '[Ce/Fe]', '[r/Fe]']
green_xfe = [-0.03, 0.03, 0.17, 0.56, 0.04, 0.18, 0.21, 0.00, 0.17, 0.14, 0.05,
             0.09, 0.05, 0.00, 0.02, 0.17, 0.25, 0.12, 0.00, 0.11, 0.18]
red_xfe = [[-0.05, -0.10, -0.15], [-0.01, -0.03, -0.04], [0.18, 0.17, 0.09],
           [0.56, 0.49, 0.47], [0.04, -0.05, -0.07], [0.20, 0.09, 0.08],
           [0.30, 0.25, 0.16], [0.05, -0.01, -0.03], [0.11, 0.10, 0.09],
           [0.14, 0.12, 0.11], [0.12, 0.02, -0.02], [0.095, 0.065, 0.055],
           [0.05, 0.04, 0.03], [0.09, 0.00, -0.04], [0.05, -0.03, -0.05],
           [0.18, 0.17, 0.14], [0.195, 0.145, 0.12], [0.15, 0.10, 0.06],
           [0.095, 0.00, 0.01], [0.20, 0.10, 0.06], [0.16, 0.10, 0.09]]
# typical error bars: position in [X/Fe] and half-length
err_feh = 0.25
err_dfeh = 0.05
err_y = [0.25, 0.345, 0.35, 0.10, 0.35, 0.35, -0.25, 0.35, 0.35, 0.35, 0.35,
         0.35, -0.25, 0.35, 0.35, -0.25, 0.345, 0.35, 0.355, 0.355, 0.36]
err_dy = [0.07, 0.14, 0.13, 0.07, 0.15, 0.11, 0.06, 0.14, 0.07, 0.09, 0.06,
          0.11, 0.15, 0.09, 0.14, 0.10, 0.075, 0.09, 0.10, 0.13, 0.095]

orange_sets = [c_orange, ti_orange, nd_orange, n_orange, cr_orange, None,
               na_orange, ni_orange, None, mg_orange, y_orange, alpha_orange,
               al_orange, None, peak_orange, si_orange, la_orange, s_orange,
               ca_orange, ce_orange, None]
gray_sets = [c_gray, None, nd_gray, n_gray, None, None,
             na_gray, ni_gray, None, mg_gray, y_gray, alpha_gray,
             None, None, None, si_gray, la_gray, s_gray,
             ca_gray, ce_gray, None]
blue_sets = [None, None, None, None, None, sm_blue,
             None, None, eu_blue, None, None, None,
             None, zr_blue, None, None, None, s_blue,
             None, None, r_blue]

thick_h = ['[C/Fe]', '[Nd/Fe]', '[N/Fe]', '[Sm/Fe]', '[Na/Fe]', '[Eu/Fe]',
           '[Mg/Fe]', '[ α /Fe]', '[Al/Fe]', '[peak/Fe]', '[Si/Fe]', '[s/Fe]', '[r/Fe]']
thick_v = ['[C/Fe]', '[Nd/Fe]', '[N/Fe]', '[Na/Fe]', '[Mg/Fe]', '[Al/Fe]', '[Si/Fe]']

ORANGE = '#ffa500'
GRAY = '#a9a9a9'
BLUE = '#3bb0e0'
LINE = '#1010f0'


def to_dex(vals):
    return np.array(vals, dtype=float) / 100.0


fig = plt.figure(figsize=(11.53, 11.46), dpi=100)
W, H = 1153.0, 1146.0
col_left = [82, 466, 850]

for i, lab in enumerate(labels):
    row, col = divmod(i, 3)
    top = 8 + 155.2 * row
    ax = fig.add_axes([col_left[col] / W, 1 - (top + 145) / H, 300 / W, 145 / H])

    if orange_sets[i] is not None:
        ax.scatter(to_dex(orange_feh), to_dex(orange_sets[i]), s=20, c=ORANGE,
                   linewidths=0, zorder=1)
    if gray_sets[i] is not None:
        ax.scatter(to_dex(gray_feh), to_dex(gray_sets[i]), s=20, c=GRAY,
                   linewidths=0, zorder=2)
    if blue_sets[i] is not None:
        ax.scatter(to_dex(blue_feh), to_dex(blue_sets[i]), s=20, c=BLUE,
                   linewidths=0, zorder=3)

    if lab in thick_h:
        ax.axhline(0, color=LINE, lw=1.5, dashes=(6, 2.5), zorder=4)
    else:
        ax.axhline(0, color=LINE, lw=1.0, dashes=(6, 3), zorder=4)
    if lab in thick_v:
        ax.axvline(0, color=LINE, lw=1.5, dashes=(6, 2.5), zorder=4)
    else:
        ax.axvline(0, color=LINE, lw=1.0, dashes=(6, 3), zorder=4)

    ax.scatter([green_feh], [green_xfe[i]], s=78, c='#2ef02e', edgecolors='k',
               linewidths=0.9, zorder=5)
    ax.scatter(red_feh, red_xfe[i], s=78, c='#ee1010', edgecolors='k',
               linewidths=0.9, zorder=6)

    ax.errorbar(err_feh, err_y[i], xerr=err_dfeh, yerr=err_dy[i], color='k',
                lw=1.6, capsize=3.5, capthick=1.6, zorder=7)

    ax.set_xlim(-0.765, 0.355)
    if lab == '[C/Fe]':
        ax.set_ylim(-0.645, 0.445)
    elif lab == '[N/Fe]':
        ax.set_ylim(-0.14, 0.95)
    else:
        ax.set_ylim(-0.44, 0.635)

    ax.xaxis.set_major_locator(MultipleLocator(0.2, offset=0.1))
    ax.xaxis.set_minor_locator(MultipleLocator(0.05))
    ax.yaxis.set_major_locator(MultipleLocator(0.2))
    ax.yaxis.set_minor_locator(MultipleLocator(0.1))
    ax.tick_params(which='both', direction='in', top=True, right=True,
                   labelsize=14, width=0.9)
    ax.tick_params(which='major', length=4)
    ax.tick_params(which='minor', length=2.5)
    for sp in ax.spines.values():
        sp.set_linewidth(1.0)

    ax.set_ylabel(lab, fontsize=19, labelpad=4)
    if row == 6:
        ax.set_xlabel('[Fe/H]', fontsize=19, labelpad=6)
    else:
        ax.tick_params(labelbottom=False)

fig.savefig('out.png', dpi=100)
